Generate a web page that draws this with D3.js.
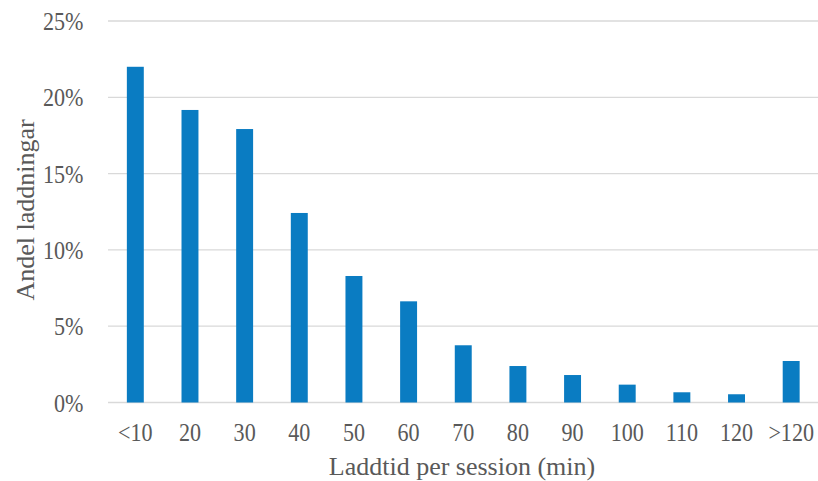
<!DOCTYPE html>
<html><head><meta charset="utf-8">
<script src="https://cdn.jsdelivr.net/npm/d3@7"></script>
<style>body{margin:0;background:#fff}svg{display:block}text{font-family:"Liberation Serif","Times New Roman",serif}</style>
</head><body><svg id="c" width="818" height="481"></svg>
<script>
const categories = ["<10","20","30","40","50","60","70","80","90","100","110","120",">120"];
const values = [22.0,19.17,17.92,12.42,8.29,6.63,3.75,2.39,1.80,1.17,0.67,0.54,2.72];
const yTicks = [0,5,10,15,20,25];

const svg = d3.select("#c");
const x = d3.scaleBand().domain(categories).range([108,818.5]).paddingInner(0.69).paddingOuter(0.345);
const y = d3.scaleLinear().domain([0,25]).range([402.5,21]);

svg.append("g").selectAll("line").data(yTicks).join("line")
  .attr("x1",108).attr("x2",818).attr("y1",d=>y(d)).attr("y2",d=>y(d))
  .attr("stroke","#d9d9d9").attr("stroke-width",1.3);

svg.append("g").selectAll("rect").data(values).join("rect")
  .attr("x",(d,i)=>x(categories[i])).attr("width",x.bandwidth())
  .attr("y",d=>y(d)).attr("height",d=>y(0)-y(d)).attr("fill","#0a7cc2");

svg.append("g").selectAll("text").data(yTicks).join("text")
  .attr("transform",d=>`translate(83.5,${y(d)+9}) scale(0.85,1)`).attr("text-anchor","end")
  .attr("font-size",26).attr("fill","#595959").text(d=>d+"%");

svg.append("g").selectAll("text").data(categories).join("text")
  .attr("transform",d=>`translate(${x(d)+x.bandwidth()/2},441) scale(0.85,1)`).attr("text-anchor","middle")
  .attr("font-size",26).attr("fill","#595959").text(d=>d);

svg.append("text").attr("x",462).attr("y",474.5).attr("text-anchor","middle")
  .attr("font-size",26).attr("fill","#595959").text("Laddtid per session (min)");

svg.append("text").attr("transform","translate(34,210) rotate(-90)").attr("text-anchor","middle")
  .attr("font-size",26).attr("fill","#595959").text("Andel laddningar");
</script></body></html>
